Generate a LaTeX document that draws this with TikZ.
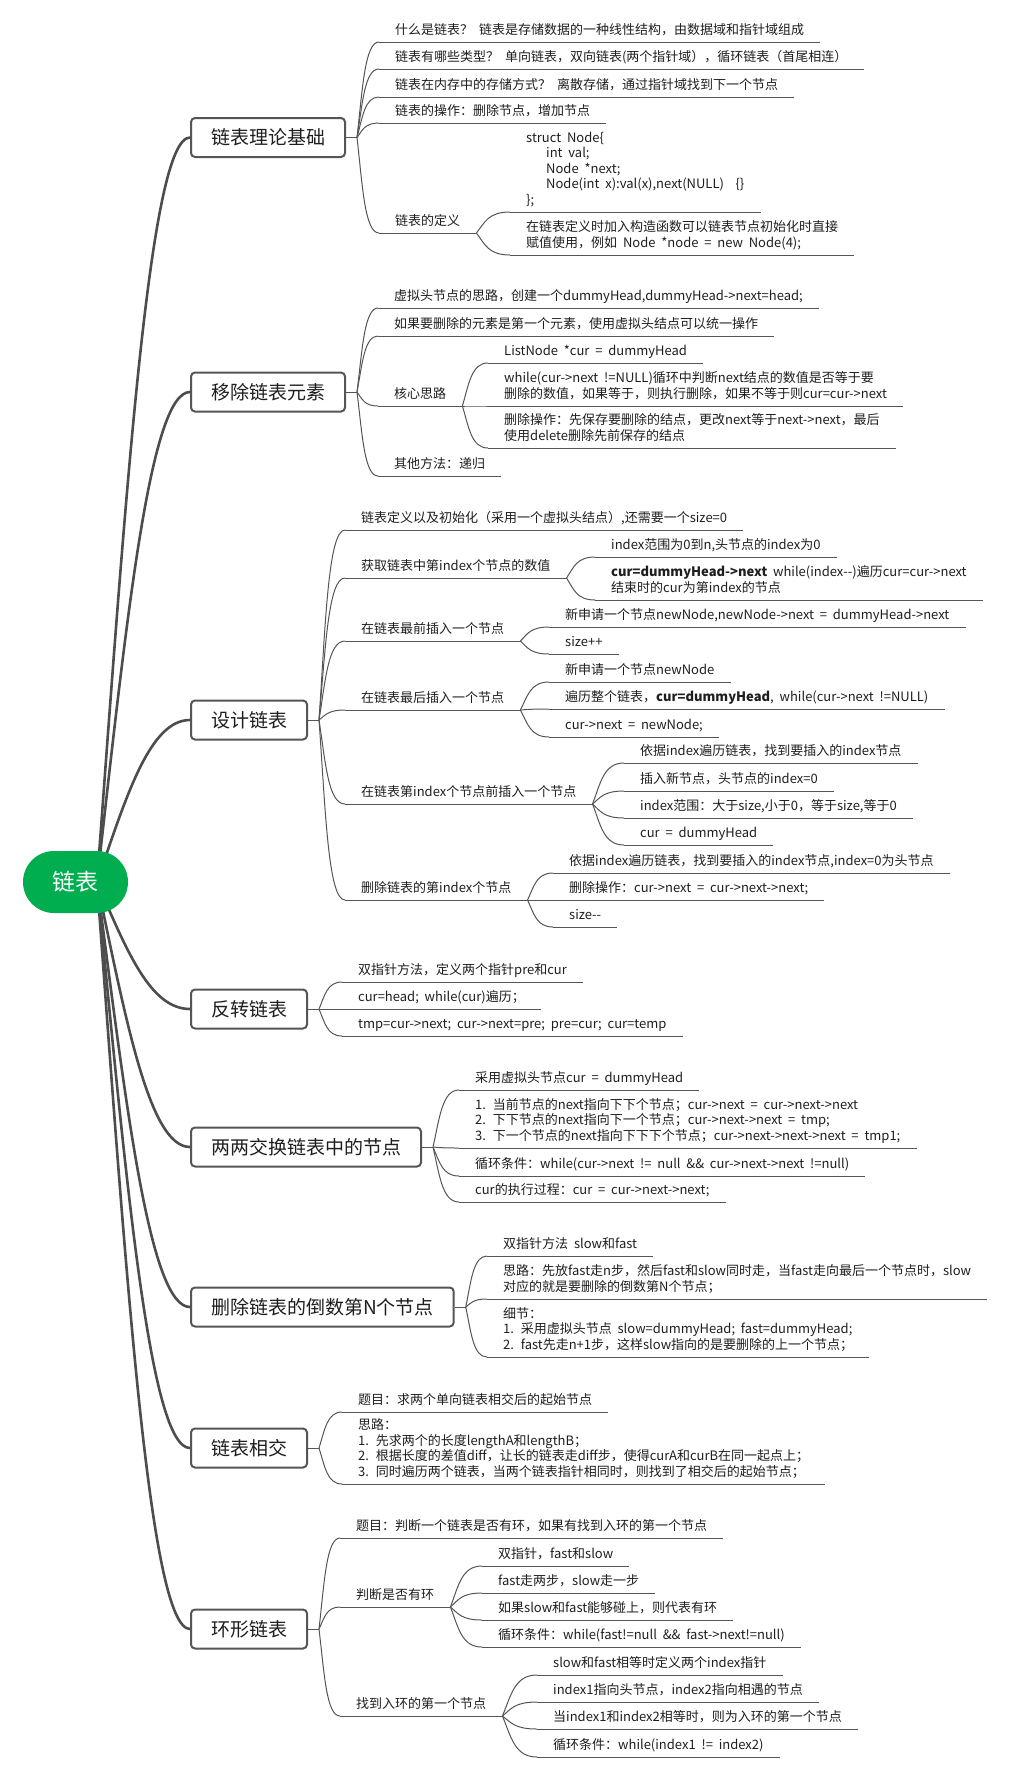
\documentclass[tikz,border=0pt]{standalone}
\usepackage{fontspec}
\setmainfont{Noto Sans CJK SC}[WordSpace=2]
\usetikzlibrary{calc,positioning,backgrounds}
\definecolor{rootgreen}{RGB}{0,173,79}
\definecolor{trunkgray}{RGB}{77,77,77}
\definecolor{linegray}{RGB}{85,85,85}
\definecolor{inkgray}{RGB}{30,30,30}
\newcommand{\mm}{\mbox{-}\mbox{-}}
\tikzset{
        root/.style = {fill=rootgreen, text=white, rounded corners=31pt,
            minimum width=105pt, minimum height=62pt,
            font=\fontsize{23}{26}\selectfont},
        topic/.style = {draw=linegray, line width=2pt, rounded corners=4pt,
            fill=white, text=inkgray, minimum height=39pt, inner xsep=20pt,
            font=\fontsize{19}{22}\selectfont},
        uline/.style = {draw=linegray, line width=1pt},
        leaf/.style = {anchor=south west, align=left, text=inkgray,
            inner xsep=16pt, inner ysep=2.9pt, execute at end node=\strut,
            font=\fontsize{13}{15.5}\selectfont,
            append after command={(\tikzlastnode.south west) edge[uline] (\tikzlastnode.south east)}},
        trunk/.style = {draw=trunkgray, line width=2.6pt,
            to path={let \p1=(\tikztostart), \p2=(\tikztotarget) in
                .. controls ({\x1+0.32*(\x2-\x1)},{\y1+0.54*(\y2-\y1)}) and ({\x1+0.57*(\x2-\x1)},\y2) .. (\tikztotarget)}},
        twig/.style = {draw=linegray, line width=1pt,
            to path={let \p1=(\tikztostart), \p2=(\tikztotarget) in
                .. controls ({\x1+0.25*(\x2-\x1)},{\y1+0.5*(\y2-\y1)}) and ({\x1+0.35*(\x2-\x1)},\y2) .. (\tikztotarget)}},
    }

\begin{document}
\begin{tikzpicture}[x=1pt, y=-1pt]
    \useasboundingbox (0,0) rectangle (1030,1778);

    \node[root] (list) at (75.5,882) {链表};

    \node[topic, anchor=west] (theory) at (190,137.5) {链表理论基础};
    \node[topic, anchor=west] (remove) at (190,392) {移除链表元素};
    \node[topic, anchor=west] (design) at (190,720) {设计链表};
    \node[topic, anchor=west] (reverse) at (190,1009) {反转链表};
    \node[topic, anchor=west] (swap) at (190,1147) {两两交换链表中的节点};
    \node[topic, anchor=west] (nth) at (190,1307) {删除链表的倒数第N个节点};
    \node[topic, anchor=west] (cross) at (190,1448) {链表相交};
    \node[topic, anchor=west] (cycle) at (190,1629) {环形链表};

    \foreach \t in {theory,remove,design,reverse,swap,nth,cross,cycle} {
        \coordinate[right=11pt of \t.east] (fork-\t);
        \draw[twig] (\t.east) -- (fork-\t);
    }

    \begin{scope}[on background layer]
        \foreach \t in {theory,remove,design,reverse,swap,nth,cross,cycle}
            \draw[trunk] ([xshift=21.5pt]list.center) to (\t.west);
    \end{scope}

    % 链表理论基础
    \node[leaf] (th1) at (379,42) {什么是链表？ 链表是存储数据的一种线性结构，由数据域和指针域组成};
    \node[leaf] (th2) at (379,69) {链表有哪些类型？ 单向链表，双向链表(两个指针域），循环链表（首尾相连）};
    \node[leaf] (th3) at (379,97) {链表在内存中的存储方式？ 离散存储，通过指针域找到下一个节点};
    \node[leaf] (th4) at (379,123) {链表的操作：删除节点，增加节点};
    \node[leaf] (th5) at (379,233) {链表的定义};
    \node[leaf] (def1) at (510,212) {struct Node\{\\\hspace*{20pt}int val;\\\hspace*{20pt}Node *next;\\\hspace*{20pt}Node(int x):val(x),next(NULL)\ \ \{\}\\\};};
    \node[leaf] (def2) at (510,255) {在链表定义时加入构造函数可以链表节点初始化时直接\\赋值使用，例如 Node *node = new Node(4);};

    % 移除链表元素
    \node[leaf] (rm1) at (378,308) {虚拟头节点的思路，创建一个dummyHead,dummyHead->next=head;};
    \node[leaf] (rm2) at (378,336) {如果要删除的元素是第一个元素，使用虚拟头结点可以统一操作};
    \node[leaf] (rm3) at (378,406) {核心思路};
    \node[leaf] (core1) at (488,363) {ListNode *cur = dummyHead};
    \node[leaf] (core2) at (488,406) {while(cur->next !=NULL)循环中判断next结点的数值是否等于要\\删除的数值，如果等于，则执行删除，如果不等于则cur=cur->next};
    \node[leaf] (core3) at (488,448) {删除操作：先保存要删除的结点，更改next等于next->next，最后\\使用delete删除先前保存的结点};
    \node[leaf] (rm4) at (378,476) {其他方法：递归};

    % 设计链表
    \node[leaf] (d1) at (345,530) {链表定义以及初始化（采用一个虚拟头结点）,还需要一个size=0};
    \node[leaf] (d2) at (345,578) {获取链表中第index个节点的数值};
    \node[leaf] (get1) at (595,557) {index范围为0到n,头节点的index为0};
    \node[leaf] (get2) at (595,600) {\textbf{cur=dummyHead->next} while(index\mm)遍历cur=cur->next\\结束时的cur为第index的节点};
    \node[leaf] (d3) at (345,641) {在链表最前插入一个节点};
    \node[leaf] (front1) at (549,627) {新申请一个节点newNode,newNode->next = dummyHead->next};
    \node[leaf] (front2) at (549,654) {size++};
    \node[leaf] (d4) at (345,710) {在链表最后插入一个节点};
    \node[leaf] (back1) at (549,682) {新申请一个节点newNode};
    \node[leaf] (back2) at (549,709) {遍历整个链表，\textbf{cur=dummyHead}, while(cur->next !=NULL)};
    \node[leaf] (back3) at (549,737) {cur->next = newNode;};
    \node[leaf] (d5) at (345,804) {在链表第index个节点前插入一个节点};
    \node[leaf] (ins1) at (624,763) {依据index遍历链表，找到要插入的index节点};
    \node[leaf] (ins2) at (624,791) {插入新节点，头节点的index=0};
    \node[leaf] (ins3) at (624,818) {index范围：大于size,小于0，等于size,等于0};
    \node[leaf] (ins4) at (624,845) {cur = dummyHead};
    \node[leaf] (d6) at (345,900) {删除链表的第index个节点};
    \node[leaf] (del1) at (553,873) {依据index遍历链表，找到要插入的index节点,index=0为头节点};
    \node[leaf] (del2) at (553,900) {删除操作：cur->next = cur->next->next;};
    \node[leaf] (del3) at (553,927) {size\mm};

    % 反转链表
    \node[leaf] (rev1) at (342,982) {双指针方法，定义两个指针pre和cur};
    \node[leaf] (rev2) at (342,1009) {cur=head; while(cur)遍历；};
    \node[leaf] (rev3) at (342,1036) {tmp=cur->next; cur->next=pre; pre=cur; cur=temp};

    % 两两交换链表中的节点
    \node[leaf] (sw1) at (459,1090) {采用虚拟头节点cur = dummyHead};
    \node[leaf] (sw2) at (459,1148) {1. 当前节点的next指向下下个节点；cur->next = cur->next->next\\2. 下下节点的next指向下一个节点；cur->next->next = tmp;\\3. 下一个节点的next指向下下下个节点；cur->next->next->next = tmp1;};
    \node[leaf] (sw3) at (459,1176) {循环条件：while(cur->next != null \&\& cur->next->next !=null)};
    \node[leaf] (sw4) at (459,1202) {cur的执行过程：cur = cur->next->next;};

    % 删除链表的倒数第N个节点
    \node[leaf] (nth1) at (487,1256) {双指针方法 slow和fast};
    \node[leaf] (nth2) at (487,1299) {思路：先放fast走n步，然后fast和slow同时走，当fast走向最后一个节点时，slow\\对应的就是要删除的倒数第N个节点；};
    \node[leaf] (nth3) at (487,1357) {细节：\\1. 采用虚拟头节点 slow=dummyHead; fast=dummyHead;\\2. fast先走n+1步，这样slow指向的是要删除的上一个节点；};

    % 链表相交
    \node[leaf] (cr1) at (342,1412) {题目：求两个单向链表相交后的起始节点};
    \node[leaf] (cr2) at (342,1484) {思路：\\1. 先求两个的长度lengthA和lengthB；\\2. 根据长度的差值diff，让长的链表走diff步，使得curA和curB在同一起点上；\\3. 同时遍历两个链表，当两个链表指针相同时，则找到了相交后的起始节点；};

    % 环形链表
    \node[leaf] (cy1) at (340,1538) {题目：判断一个链表是否有环，如果有找到入环的第一个节点};
    \node[leaf] (cy2) at (340,1607) {判断是否有环};
    \node[leaf] (ring1) at (482,1566) {双指针，fast和slow};
    \node[leaf] (ring2) at (482,1593) {fast走两步，slow走一步};
    \node[leaf] (ring3) at (482,1620) {如果slow和fast能够碰上，则代表有环};
    \node[leaf] (ring4) at (482,1647) {循环条件：while(fast!=null \&\& fast->next!=null)};
    \node[leaf] (cy3) at (340,1716) {找到入环的第一个节点};
    \node[leaf] (entry1) at (537,1675) {slow和fast相等时定义两个index指针};
    \node[leaf] (entry2) at (537,1702) {index1指向头节点，index2指向相遇的节点};
    \node[leaf] (entry3) at (537,1729) {当index1和index2相等时，则为入环的第一个节点};
    \node[leaf] (entry4) at (537,1757) {循环条件：while(index1 != index2)};

    \foreach \k in {th1,th2,th3,th4,th5} \draw[twig] (fork-theory) to (\k.south west);
    \foreach \k in {def1,def2} \draw[twig] (th5.south east) to (\k.south west);
    \foreach \k in {rm1,rm2,rm3,rm4} \draw[twig] (fork-remove) to (\k.south west);
    \foreach \k in {core1,core2,core3} \draw[twig] (rm3.south east) to (\k.south west);
    \foreach \k in {d1,d2,d3,d4,d5,d6} \draw[twig] (fork-design) to (\k.south west);
    \foreach \k in {get1,get2} \draw[twig] (d2.south east) to (\k.south west);
    \foreach \k in {front1,front2} \draw[twig] (d3.south east) to (\k.south west);
    \foreach \k in {back1,back2,back3} \draw[twig] (d4.south east) to (\k.south west);
    \foreach \k in {ins1,ins2,ins3,ins4} \draw[twig] (d5.south east) to (\k.south west);
    \foreach \k in {del1,del2,del3} \draw[twig] (d6.south east) to (\k.south west);
    \foreach \k in {rev1,rev2,rev3} \draw[twig] (fork-reverse) to (\k.south west);
    \foreach \k in {sw1,sw2,sw3,sw4} \draw[twig] (fork-swap) to (\k.south west);
    \foreach \k in {nth1,nth2,nth3} \draw[twig] (fork-nth) to (\k.south west);
    \foreach \k in {cr1,cr2} \draw[twig] (fork-cross) to (\k.south west);
    \foreach \k in {cy1,cy2,cy3} \draw[twig] (fork-cycle) to (\k.south west);
    \foreach \k in {ring1,ring2,ring3,ring4} \draw[twig] (cy2.south east) to (\k.south west);
    \foreach \k in {entry1,entry2,entry3,entry4} \draw[twig] (cy3.south east) to (\k.south west);
\end{tikzpicture}
\end{document}
